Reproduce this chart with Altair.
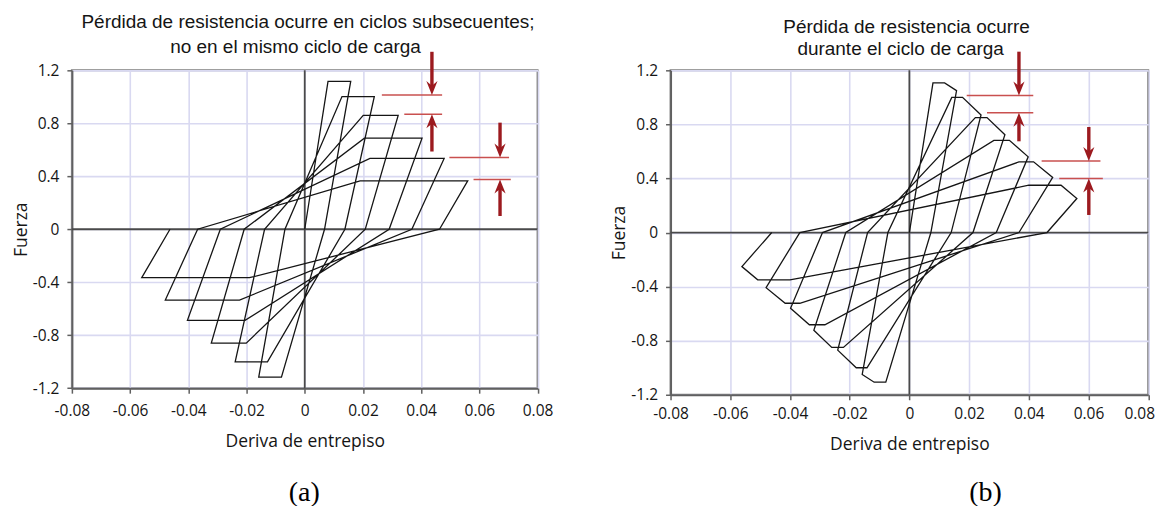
import altair as alt
import pandas as pd

# ---------------- data ----------------
X_TICKS = [-0.08, -0.06, -0.04, -0.02, 0.0, 0.02, 0.04, 0.06, 0.08]
Y_TICKS = [-1.2, -0.8, -0.4, 0.0, 0.4, 0.8, 1.2]

# Panel (a): strength loss in subsequent cycles (flat plateaus)
A_PEAK_F = [1.117, 1.002, 0.860, 0.688, 0.535, 0.366]
A_PLAT_X0 = [0.0080, 0.0128, 0.0201, 0.0205, 0.0224, 0.0190]
A_PLAT_X1 = [0.0158, 0.0239, 0.0321, 0.0403, 0.0479, 0.0560]
A_ZERO_X = [0.0068, 0.0138, 0.0208, 0.0290, 0.0368, 0.0463]

# Panel (b): strength loss during the loading cycle (negative slope)
B_PEAK_F = [1.107, 1.000, 0.850, 0.682, 0.523, 0.350]
B_PLAT_X0 = [0.0079, 0.0142, 0.0221, 0.0283, 0.0367, 0.0400]
B_PLAT_X1 = [0.0118, 0.0178, 0.0260, 0.0335, 0.0416, 0.0508]
B_DROP_X = [0.0158, 0.0240, 0.0320, 0.0398, 0.0480, 0.0561]
B_DROP_F = [1.050, 0.870, 0.723, 0.560, 0.408, 0.252]
B_ZERO_X = [0.0072, 0.0140, 0.0213, 0.0291, 0.0367, 0.0461]

# red annotation lines: y, x start, x end
A_HL_Y = [1.013, 0.868, 0.5425, 0.375]
A_HL_X0 = [0.0265, 0.0342, 0.0497, 0.0580]
A_HL_X1 = [0.0472, 0.0472, 0.0702, 0.0708]
# arrows: x, tail y, tip y
A_AR_X = [0.0437, 0.0437, 0.0671, 0.0671]
A_AR_FROM = [1.34, 0.587, 0.805, 0.10]
A_AR_TIP = [1.013, 0.868, 0.5425, 0.375]

B_HL_Y = [1.014, 0.886, 0.530, 0.400]
B_HL_X0 = [0.0192, 0.0260, 0.0443, 0.0502]
B_HL_X1 = [0.0415, 0.0415, 0.0640, 0.0648]
B_AR_X = [0.0367, 0.0367, 0.0601, 0.0601]
B_AR_FROM = [1.338, 0.675, 0.781, 0.13]
B_AR_TIP = [1.014, 0.886, 0.530, 0.400]

A_TITLE = ["Pérdida de resistencia ocurre en ciclos subsecuentes;",
           "no en el mismo ciclo de carga"]
B_TITLE = ["Pérdida de resistencia ocurre",
           "durante el ciclo de carga"]
X_TITLE = "Deriva de entrepiso"
Y_TITLE = "Fuerza"
TAGS = ["(a)", "(b)"]

# ---------------- build tables ----------------
def path_a():
    pts = [(0.0, 0.0)]
    for f, x0, x1, xz in zip(A_PEAK_F, A_PLAT_X0, A_PLAT_X1, A_ZERO_X):
        pts += [(x0, f), (x1, f), (xz, 0.0), (-x0, -f), (-x1, -f), (-xz, 0.0)]
    return pd.DataFrame({"x": [p[0] for p in pts], "y": [p[1] for p in pts],
                         "i": list(range(len(pts)))})


def path_b():
    pts = [(0.0, 0.0)]
    for f, x0, x1, xd, fd, xz in zip(B_PEAK_F, B_PLAT_X0, B_PLAT_X1,
                                     B_DROP_X, B_DROP_F, B_ZERO_X):
        pts += [(x0, f), (x1, f), (xd, fd), (xz, 0.0),
                (-x0, -f), (-x1, -f), (-xd, -fd), (-xz, 0.0)]
    return pd.DataFrame({"x": [p[0] for p in pts], "y": [p[1] for p in pts],
                         "i": list(range(len(pts)))})


DOWN = "M0,0 L-0.8,-2 L0,-1.35 L0.8,-2 Z"
UP = "M0,0 L-0.8,2 L0,1.35 L0.8,2 Z"
HEAD = 14.0  # px length of arrow head
RED = "#9c1a1f"
RED_LINE = "#c9504f"
INK = "#151515"

LAB_EXPR_X = ("datum.value == 0 ? '0' : (datum.value < 0 ? '-' : '') + "
              "format(abs(datum.value), '.2f')")
LAB_EXPR_Y = ("datum.value == 0 ? '0' : (datum.value < 0 ? '-' : '') + "
              "format(abs(datum.value), '.1f')")


def panel(df, hl_y, hl_x0, hl_x1, ar_x, ar_from, ar_tip, title, tpos, tag,
          tagpos, w, h, xlabpad, xtitle_y, ytitle_x, last_shift=0,
          anchor=False):
    xs = alt.Scale(domain=[-0.08, 0.08], nice=False, zero=False)
    ys = alt.Scale(domain=[-1.2, 1.2], nice=False, zero=False)
    xax_kw = dict(values=X_TICKS, labelExpr=LAB_EXPR_X, title=X_TITLE,
                  labelPadding=xlabpad, titleY=xtitle_y,
                  titleBaseline="middle", labelFlush=False,
                  labelOverlap=False)
    if last_shift:
        xax_kw["labelOffset"] = {"condition": {"test": "datum.value > 0.079",
                                               "value": last_shift},
                                 "value": 0}
    xax = alt.Axis(**xax_kw)
    yax = alt.Axis(values=Y_TICKS, labelExpr=LAB_EXPR_Y, title=Y_TITLE,
                   labelPadding=8, titleX=ytitle_x, titleY=h / 2,
                   titleAngle=270, titleBaseline="middle",
                   titleAlign="center", labelFlush=False,
                   labelOverlap=False)
    X = lambda f="x": alt.X(f + ":Q", scale=xs, axis=xax)
    Y = lambda f="y": alt.Y(f + ":Q", scale=ys, axis=yax)

    per_px = 2.4 / h
    layers = []
    layers.append(alt.Chart(pd.DataFrame({"x": [0.0]}))
                  .mark_rule(color="#4a4a4a", strokeWidth=1.8)
                  .encode(x=X()))
    layers.append(alt.Chart(pd.DataFrame({"y": [0.0]}))
                  .mark_rule(color="#4a4a4a", strokeWidth=1.8)
                  .encode(y=Y()))
    layers.append(alt.Chart(df).mark_line(color=INK, strokeWidth=1.3,
                                          strokeJoin="miter")
                  .encode(x=X(), y=Y(), order="i:Q"))
    hl = pd.DataFrame({"y": hl_y, "x": hl_x0, "x2": hl_x1})
    layers.append(alt.Chart(hl).mark_rule(color=RED_LINE, strokeWidth=1.5)
                  .encode(x=X(), x2="x2:Q", y=Y()))
    # arrow shafts end under the heads
    ends = []
    for f, t in zip(ar_from, ar_tip):
        sgn = 1 if f > t else -1
        ends.append(t + sgn * 0.6 * HEAD * per_px)
    sh = pd.DataFrame({"x": ar_x, "y": ar_from, "y2": ends})
    layers.append(alt.Chart(sh).mark_rule(color=RED, strokeWidth=3.4)
                  .encode(x=X(), y=Y(), y2="y2:Q"))
    dn = pd.DataFrame({"x": [a for a, f, t in zip(ar_x, ar_from, ar_tip) if f > t],
                       "y": [t for a, f, t in zip(ar_x, ar_from, ar_tip) if f > t]})
    upd = pd.DataFrame({"x": [a for a, f, t in zip(ar_x, ar_from, ar_tip) if f < t],
                        "y": [t for a, f, t in zip(ar_x, ar_from, ar_tip) if f < t]})
    layers.append(alt.Chart(dn).mark_point(shape=DOWN, filled=True,
                                           size=HEAD * HEAD, color=RED,
                                           opacity=1, strokeWidth=0)
                  .encode(x=X(), y=Y()))
    layers.append(alt.Chart(upd).mark_point(shape=UP, filled=True,
                                            size=HEAD * HEAD, color=RED,
                                            opacity=1, strokeWidth=0)
                  .encode(x=X(), y=Y()))
    for line, (px, py) in zip(title, tpos):
        layers.append(alt.Chart(pd.DataFrame({"t": [line]}))
                      .mark_text(font="Liberation Sans", fontSize=19,
                                 color=INK, baseline="middle", align="center")
                      .encode(text="t:N", x=alt.value(px), y=alt.value(py)))
    layers.append(alt.Chart(pd.DataFrame({"t": [tag]}))
                  .mark_text(font="Liberation Serif", fontSize=28,
                             color="#000000", baseline="middle",
                             align="center")
                  .encode(text="t:N", x=alt.value(tagpos[0]),
                          y=alt.value(tagpos[1])))
    if anchor:
        layers.append(alt.Chart(pd.DataFrame({"t": [0]}))
                      .mark_rule(opacity=0, strokeWidth=0)
                      .encode(x=alt.value(-62.3), x2=alt.value(-62.3),
                              y=alt.value(-60.5), y2=alt.value(-60.5)))
    return alt.layer(*layers).properties(width=w, height=h)


pa = panel(path_a(), A_HL_Y, A_HL_X0, A_HL_X1, A_AR_X, A_AR_FROM, A_AR_TIP,
           A_TITLE, [(236.5, -48.0), (224.0, -23.5)], TAGS[0],
           (232.7, 423.5), 466.5, 318.4, 10, 53, -50.3, anchor=True)
pb = panel(path_b(), B_HL_Y, B_HL_X0, B_HL_X1, B_AR_X, B_AR_FROM, B_AR_TIP,
           B_TITLE, [(236.5, -43.5), (230.5, -21.0)], TAGS[1],
           (315.5, 423.5), 478.5, 325.0, 7, 49.5, -51.0, last_shift=-9)

chart = (alt.hconcat(pa, pb, spacing=132.7, bounds="flush")
         .properties(padding=0, background="white")
         .configure_view(stroke="#808080", strokeWidth=2)
         .configure_axis(grid=True, gridColor="#d9d9f1", gridWidth=1.6,
                         domainColor="#606060", domainWidth=2,
                         tickColor="#606060", tickSize=5, tickWidth=1.5,
                         labelFont="Open Sans", labelFontSize=15.5,
                         labelColor=INK, titleFont="Open Sans",
                         titleFontSize=17.5, titleFontWeight="normal",
                         titleColor=INK))

chart.save("out.html", embed_options={"renderer": "svg", "actions": False})
